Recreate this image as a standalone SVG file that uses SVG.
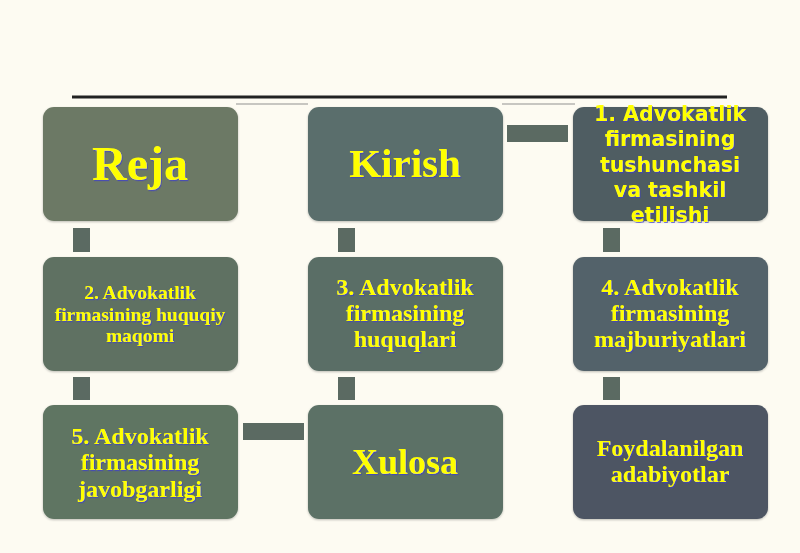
<svg xmlns="http://www.w3.org/2000/svg" width="800" height="553" viewBox="0 0 800 553">
<style>
.box{stroke:none}
.t{fill:#ffff00;font-family:"Liberation Serif","Times New Roman",serif;font-weight:bold;text-anchor:middle;filter:url(#sh)}
.ts{fill:#ffff00;font-family:"DejaVu Sans",Verdana,sans-serif;font-weight:bold;text-anchor:middle;filter:url(#sh)}
.c{fill:#5b6a62}
</style>
<defs>
<filter id="sh" x="-10%" y="-10%" width="120%" height="130%">
<feDropShadow dx="1" dy="1.2" stdDeviation="0.6" flood-color="#3a3ad0" flood-opacity="0.7"/>
</filter>
<filter id="bs" x="-5%" y="-5%" width="110%" height="115%">
<feDropShadow dx="0" dy="1" stdDeviation="1" flood-color="#000" flood-opacity="0.25"/>
</filter>
<clipPath id="cp1"><rect x="560" y="95" width="220" height="128"/></clipPath>
</defs>
<rect width="800" height="553" fill="#fdfbf2"/>
<line x1="72" y1="97" x2="727" y2="97" stroke="#222" stroke-width="3"/>
<line x1="236" y1="104" x2="308" y2="104" stroke="#b5b5b0" stroke-width="1.5"/>
<line x1="502" y1="104" x2="575" y2="104" stroke="#b5b5b0" stroke-width="1.5"/>
<g id="connectors">
<rect class="c" x="73" y="228" width="17" height="24" fill="#5f6b5c"/>
<rect class="c" x="338" y="228" width="17" height="24" fill="#56685f"/>
<rect class="c" x="603" y="228" width="17" height="24" fill="#4f5c5f"/>
<rect class="c" x="73" y="377" width="17" height="23" fill="#5a6b5c"/>
<rect class="c" x="338" y="377" width="17" height="23" fill="#56695e"/>
<rect class="c" x="603" y="377" width="17" height="23" fill="#4b565e"/>
<rect class="c" x="243" y="423" width="61" height="17" fill="#5a6e5e"/>
<rect class="c" x="507" y="125" width="61" height="17" fill="#535f62"/>
</g>
<g id="n-reja">
<rect class="box" x="43" y="107" width="195" height="114" rx="11" fill="#6c7965" filter="url(#bs)"/>
<text class="t" x="140" y="180" font-size="48">Reja</text>
</g>
<g id="n-kirish">
<rect class="box" x="308" y="107" width="195" height="114" rx="11" fill="#5a6e6c" filter="url(#bs)"/>
<text class="t" x="405" y="177" font-size="41">Kirish</text>
</g>
<g id="n-1">
<rect class="box" x="573" y="107" width="195" height="114" rx="11" fill="#4f5d62" filter="url(#bs)"/>
<g clip-path="url(#cp1)">
<text class="ts" x="670" y="121" font-size="20.5">1. Advokatlik</text>
<text class="ts" x="670" y="146" font-size="20.5">firmasining</text>
<text class="ts" x="670" y="172" font-size="20.5">tushunchasi</text>
<text class="ts" x="670" y="197" font-size="20.5">va tashkil</text>
<text class="ts" x="670" y="222" font-size="20.5">etilishi</text>
</g>
</g>
<g id="n-2">
<rect class="box" x="43" y="257" width="195" height="114" rx="11" fill="#5e7162" filter="url(#bs)"/>
<text class="t" x="140" y="299" font-size="19.5">2. Advokatlik</text>
<text class="t" x="140" y="321" font-size="19.5">firmasining huquqiy</text>
<text class="t" x="140" y="342" font-size="19.5">maqomi</text>
</g>
<g id="n-3">
<rect class="box" x="308" y="257" width="195" height="114" rx="11" fill="#5a6e66" filter="url(#bs)"/>
<text class="t" x="405" y="295" font-size="24">3. Advokatlik</text>
<text class="t" x="405" y="321" font-size="24">firmasining</text>
<text class="t" x="405" y="347" font-size="24">huquqlari</text>
</g>
<g id="n-4">
<rect class="box" x="573" y="257" width="195" height="114" rx="11" fill="#53626a" filter="url(#bs)"/>
<text class="t" x="670" y="295" font-size="24">4. Advokatlik</text>
<text class="t" x="670" y="321" font-size="24">firmasining</text>
<text class="t" x="670" y="347" font-size="24">majburiyatlari</text>
</g>
<g id="n-5">
<rect class="box" x="43" y="405" width="195" height="114" rx="11" fill="#5f7462" filter="url(#bs)"/>
<text class="t" x="140" y="444" font-size="24">5. Advokatlik</text>
<text class="t" x="140" y="470" font-size="24">firmasining</text>
<text class="t" x="140" y="497" font-size="24">javobgarligi</text>
</g>
<g id="n-xulosa">
<rect class="box" x="308" y="405" width="195" height="114" rx="11" fill="#5b7166" filter="url(#bs)"/>
<text class="t" x="405" y="474" font-size="36">Xulosa</text>
</g>
<g id="n-foyda">
<rect class="box" x="573" y="405" width="195" height="114" rx="11" fill="#4d5563" filter="url(#bs)"/>
<text class="t" x="670" y="456" font-size="24">Foydalanilgan</text>
<text class="t" x="670" y="482" font-size="24">adabiyotlar</text>
</g>
</svg>
